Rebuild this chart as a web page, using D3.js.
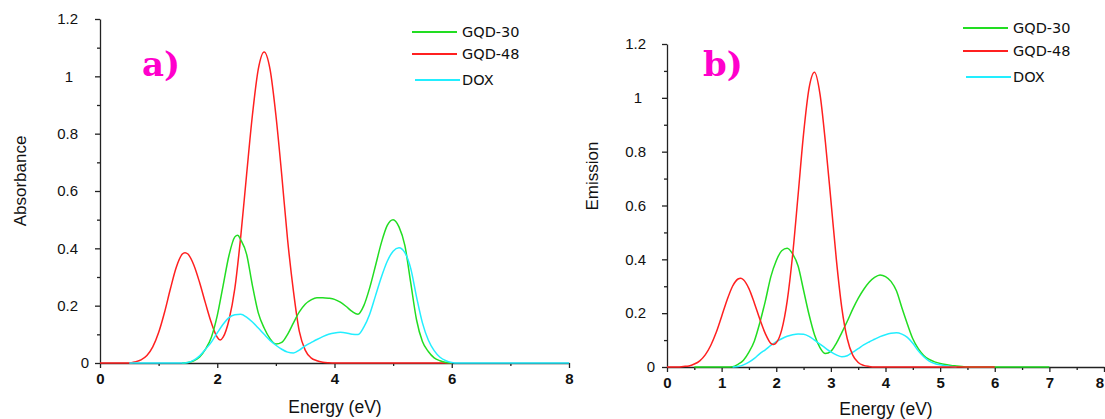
<!DOCTYPE html>
<html>
<head>
<meta charset="utf-8">
<script src="https://cdn.jsdelivr.net/npm/d3@7"></script>
<style>
body { margin: 0; background: #fff; }
svg { display: block; }
</style>
</head>
<body>
<div id="chart"></div>
<script>
// legend entries
const seriesNames = ["GQD-30", "GQD-48", "DOX"];

// tick values
const absTicksX = [0, 2, 4, 6, 8];
const absMinorX = [1, 3, 5, 7];
const emiTicksX = [0, 1, 2, 3, 4, 5, 6, 7, 8];
const emiMinorX = [0.5, 1.5, 2.5, 3.5, 4.5, 5.5, 6.5, 7.5];
const ticksY = [0, 0.2, 0.4, 0.6, 0.8, 1, 1.2];
const minorY = [0.1, 0.3, 0.5, 0.7, 0.9, 1.1];

// panel a) absorbance, [energy eV, value]
const absGqd30 = [[1.4,0],[1.5,0.002],[1.6,0.008],[1.7,0.021],[1.8,0.048],[1.9,0.09],[2.0,0.165],[2.1,0.27],[2.2,0.375],[2.3,0.44],[2.35,0.446],[2.4,0.43],[2.5,0.38],[2.6,0.27],[2.7,0.175],[2.8,0.122],[2.9,0.085],[3.0,0.066],[3.1,0.072],[3.2,0.1],[3.3,0.14],[3.4,0.178],[3.5,0.205],[3.6,0.22],[3.7,0.228],[3.8,0.228],[3.9,0.226],[4.0,0.222],[4.1,0.212],[4.2,0.197],[4.3,0.18],[4.4,0.17],[4.5,0.2],[4.6,0.262],[4.7,0.34],[4.8,0.42],[4.9,0.48],[5.0,0.5],[5.1,0.475],[5.2,0.41],[5.3,0.28],[5.4,0.15],[5.5,0.075],[5.6,0.04],[5.7,0.018],[5.8,0.008],[5.9,0.002],[6.0,0]];
const absGqd48 = [[0,0],[0.5,0],[0.6,0.004],[0.7,0.011],[0.8,0.026],[0.9,0.056],[1.0,0.106],[1.1,0.176],[1.2,0.258],[1.3,0.333],[1.4,0.379],[1.45,0.385],[1.5,0.38],[1.6,0.342],[1.7,0.28],[1.8,0.208],[1.9,0.14],[2.0,0.09],[2.05,0.08],[2.1,0.09],[2.2,0.15],[2.3,0.26],[2.4,0.44],[2.5,0.656],[2.6,0.865],[2.7,1.025],[2.8,1.085],[2.9,1.025],[3.0,0.865],[3.1,0.656],[3.2,0.43],[3.3,0.25],[3.4,0.11],[3.5,0.045],[3.6,0.018],[3.7,0.008],[3.8,0.003],[3.9,0.001],[4.0,0],[6.0,0]];
const absDox = [[0.5,0],[1.4,0],[1.5,0.002],[1.6,0.01],[1.7,0.025],[1.8,0.048],[1.9,0.073],[2.0,0.105],[2.1,0.135],[2.2,0.158],[2.3,0.168],[2.4,0.17],[2.5,0.16],[2.6,0.143],[2.7,0.122],[2.8,0.1],[2.9,0.079],[3.0,0.062],[3.1,0.048],[3.2,0.038],[3.3,0.035],[3.4,0.045],[3.5,0.06],[3.6,0.071],[3.7,0.082],[3.8,0.092],[3.9,0.1],[4.0,0.105],[4.1,0.107],[4.2,0.105],[4.3,0.1],[4.4,0.099],[4.5,0.125],[4.6,0.17],[4.7,0.235],[4.8,0.3],[4.9,0.355],[5.0,0.39],[5.1,0.402],[5.2,0.385],[5.3,0.33],[5.4,0.23],[5.5,0.14],[5.6,0.08],[5.7,0.043],[5.8,0.02],[5.9,0.008],[6.0,0.002],[6.1,0],[8.0,0]];

// panel b) emission
const emiGqd30 = [[0.5,0],[1.1,0],[1.2,0.001],[1.3,0.01],[1.4,0.025],[1.5,0.055],[1.6,0.097],[1.7,0.165],[1.8,0.245],[1.9,0.335],[2.0,0.395],[2.1,0.432],[2.2,0.441],[2.3,0.42],[2.4,0.375],[2.5,0.285],[2.6,0.195],[2.7,0.12],[2.8,0.072],[2.9,0.05],[3.0,0.058],[3.1,0.088],[3.2,0.128],[3.3,0.17],[3.4,0.215],[3.5,0.255],[3.6,0.288],[3.7,0.315],[3.8,0.333],[3.9,0.342],[4.0,0.336],[4.1,0.318],[4.2,0.283],[4.3,0.22],[4.4,0.16],[4.5,0.105],[4.6,0.068],[4.7,0.043],[4.8,0.028],[4.9,0.019],[5.0,0.013],[5.1,0.009],[5.2,0.006],[5.3,0.004],[5.4,0.002],[5.5,0],[7.0,0]];
const emiGqd48 = [[0,0],[0.2,0],[0.3,0.002],[0.4,0.004],[0.5,0.011],[0.6,0.023],[0.7,0.045],[0.8,0.08],[0.9,0.128],[1.0,0.188],[1.1,0.249],[1.2,0.3],[1.3,0.327],[1.35,0.33],[1.4,0.324],[1.5,0.291],[1.6,0.237],[1.7,0.177],[1.8,0.124],[1.9,0.088],[1.95,0.084],[2.0,0.09],[2.1,0.138],[2.2,0.245],[2.3,0.417],[2.4,0.639],[2.5,0.866],[2.6,1.035],[2.7,1.095],[2.8,1.015],[2.9,0.835],[3.0,0.62],[3.1,0.4],[3.2,0.22],[3.3,0.105],[3.4,0.044],[3.5,0.017],[3.6,0.006],[3.7,0.002],[3.8,0],[6.0,0]];
const emiDox = [[1.2,0],[1.3,0.002],[1.4,0.008],[1.5,0.018],[1.6,0.032],[1.7,0.05],[1.8,0.064],[1.9,0.08],[2.0,0.094],[2.1,0.105],[2.2,0.114],[2.3,0.12],[2.4,0.123],[2.5,0.122],[2.6,0.114],[2.7,0.1],[2.8,0.085],[2.9,0.07],[3.0,0.056],[3.1,0.045],[3.2,0.038],[3.3,0.042],[3.4,0.055],[3.5,0.068],[3.6,0.082],[3.7,0.093],[3.8,0.103],[3.9,0.113],[4.0,0.12],[4.1,0.125],[4.2,0.127],[4.3,0.122],[4.4,0.11],[4.5,0.088],[4.6,0.06],[4.7,0.038],[4.8,0.022],[4.9,0.013],[5.0,0.008],[5.1,0.005],[5.2,0.002],[5.3,0]];

const COLORS = {"GQD-30": "#22dd22", "GQD-48": "#ff2020", "DOX": "#22eeff"};
const AXIS_FONT = "'Liberation Sans', Arial, sans-serif";

const svg = d3.select("#chart")
  .append("svg")
  .attr("width", 1105)
  .attr("height", 419);

const panels = [
  {
    xRange: [100, 569], yRange: [363, 19],
    ticksX: absTicksX, minorX: absMinorX,
    yTitle: "Absorbance", yTitleX: 20, yTitleY: 181,
    xTitleX: 335, xTitleY: 413,
    tag: "a)", tagX: 142, tagY: 76,
    legendX: [412, 457], legendY: [32, 54, 80],
    labelX: {zero: -11, one: -27, other: -22},
    // drawing order
    series: [["GQD-48", absGqd48], ["GQD-30", absGqd30], ["DOX", absDox]]
  },
  {
    xRange: [667, 1104], yRange: [367, 44],
    ticksX: emiTicksX, minorX: emiMinorX,
    yTitle: "Emission", yTitleX: 592, yTitleY: 176,
    xTitleX: 886, xTitleY: 415,
    tag: "b)", tagX: 703, tagY: 76,
    legendX: [963, 1008], legendY: [28, 51, 77],
    labelX: {zero: -12, one: -25, other: -21},
    series: [["GQD-30", emiGqd30], ["DOX", emiDox], ["GQD-48", emiGqd48]]
  }
];

function drawPanel(p) {
  const x = d3.scaleLinear().domain([0, 8]).range(p.xRange);
  const y = d3.scaleLinear().domain([0, 1.2]).range(p.yRange);
  const g = svg.append("g");

  // minor ticks
  g.append("g")
    .attr("transform", `translate(0,${p.yRange[0]})`)
    .call(d3.axisBottom(x).tickValues(p.minorX).tickSize(3).tickFormat(""))
    .call(a => a.select(".domain").remove());
  g.append("g")
    .attr("transform", `translate(${p.xRange[0]},0)`)
    .call(d3.axisLeft(y).tickValues(minorY).tickSize(3).tickFormat(""))
    .call(a => a.select(".domain").remove());

  // major axes
  const xAxis = g.append("g")
    .attr("transform", `translate(0,${p.yRange[0]})`)
    .call(d3.axisBottom(x).tickValues(p.ticksX).tickSize(5).tickSizeOuter(0).tickPadding(5).tickFormat(d3.format("~g")));
  xAxis.selectAll("text").attr("font-weight", "bold");
  // last label sits on the window edge, keep it inside
  xAxis.selectAll(".tick text").filter(d => x(d) > 1100).attr("dx", "-0.3em");

  const yAxis = g.append("g")
    .attr("transform", `translate(${p.xRange[0]},0)`)
    .call(d3.axisLeft(y).tickValues(ticksY).tickSize(5).tickSizeOuter(0).tickFormat(d3.format("~g")));
  yAxis.selectAll(".tick text")
    .attr("x", d => d === 0 ? p.labelX.zero : (d === 1 ? p.labelX.one : p.labelX.other));

  g.selectAll(".tick text")
    .attr("font-family", AXIS_FONT)
    .attr("font-size", "15px")
    .attr("fill", "#111");
  g.selectAll(".domain, .tick line")
    .attr("stroke", "#222")
    .attr("stroke-width", 1.3);

  // curves
  const line = d3.line()
    .x(d => x(d[0]))
    .y(d => y(d[1]))
    .curve(d3.curveMonotoneX);

  p.series.forEach(([name, values]) => {
    g.append("path")
      .datum(values)
      .attr("fill", "none")
      .attr("stroke", COLORS[name])
      .attr("stroke-width", 1.5)
      .attr("d", line);
  });

  // titles
  g.append("text")
    .attr("transform", `translate(${p.yTitleX},${p.yTitleY}) rotate(-90)`)
    .attr("text-anchor", "middle")
    .attr("dy", "0.35em")
    .attr("font-family", AXIS_FONT)
    .attr("font-size", "17px")
    .attr("fill", "#111")
    .text(p.yTitle);

  g.append("text")
    .attr("x", p.xTitleX)
    .attr("y", p.xTitleY)
    .attr("text-anchor", "middle")
    .attr("font-family", AXIS_FONT)
    .attr("font-size", "17.5px")
    .attr("fill", "#111")
    .text("Energy (eV)");

  g.append("text")
    .attr("x", p.tagX)
    .attr("y", p.tagY)
    .attr("font-family", "'DejaVu Serif', serif")
    .attr("font-weight", "bold")
    .attr("font-size", "34px")
    .attr("fill", "#ff00cc")
    .text(p.tag);

  // legend
  seriesNames.forEach((name, i) => {
    g.append("line")
      .attr("x1", p.legendX[0] + (name === "DOX" ? 3 : 0))
      .attr("x2", p.legendX[1] + (name === "DOX" ? 3 : 0))
      .attr("y1", p.legendY[i])
      .attr("y2", p.legendY[i])
      .attr("stroke", COLORS[name])
      .attr("stroke-width", 2);
    g.append("text")
      .attr("x", p.legendX[1] + 5)
      .attr("y", p.legendY[i])
      .attr("dy", "0.36em")
      .attr("font-family", "'DejaVu Sans', Verdana, sans-serif")
      .attr("font-size", "14.5px")
      .attr("fill", "#111")
      .text(name);
  });
}

panels.forEach(drawPanel);
</script>
</body>
</html>
